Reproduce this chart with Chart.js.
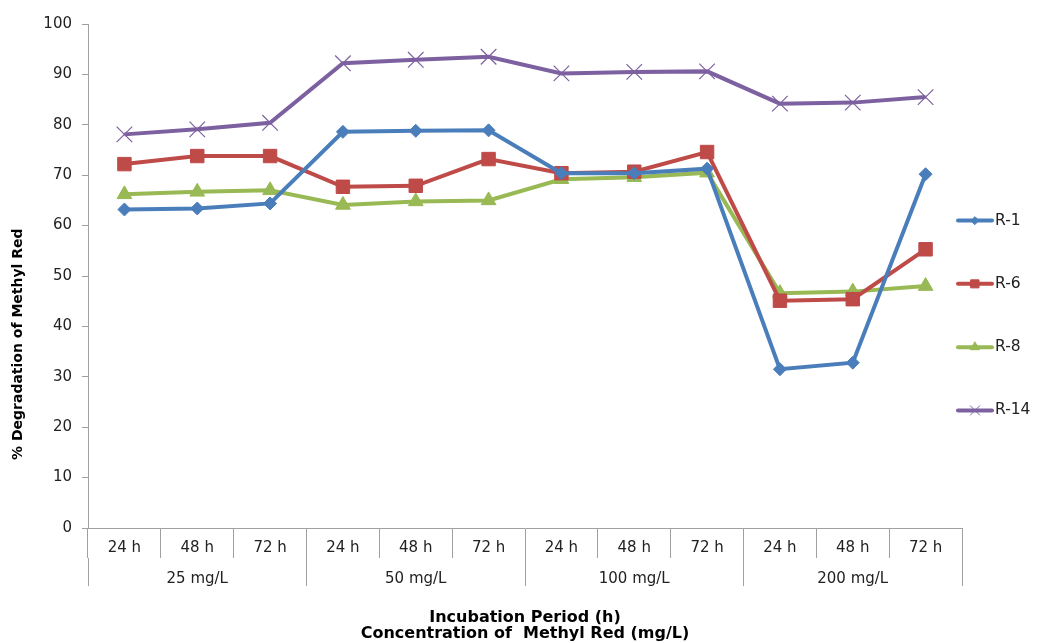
<!DOCTYPE html>
<html>
<head>
<meta charset="utf-8">
<script src="https://cdn.jsdelivr.net/npm/chart.js@4.4.1/dist/chart.umd.min.js"></script>
<style>
  html, body { margin: 0; padding: 0; background: #fff; }
  #wrap { width: 1037px; height: 643px; position: relative; }
</style>
</head>
<body>
<div id="wrap"><canvas id="chart"></canvas></div>
<script>
// Incubation period, repeated for each dye concentration
const hours = ['24 h', '48 h', '72 h', '24 h', '48 h', '72 h', '24 h', '48 h', '72 h', '24 h', '48 h', '72 h'];
const concentrations = ['25 mg/L', '50 mg/L', '100 mg/L', '200 mg/L'];
const yTicks = [0, 10, 20, 30, 40, 50, 60, 70, 80, 90, 100];

// % degradation of methyl red for each isolate
const r1 = [63.2, 63.4, 64.4, 78.6, 78.8, 78.9, 70.4, 70.4, 71.3, 31.5, 32.8, 70.2];
const r6 = [72.2, 73.8, 73.8, 67.7, 67.9, 73.2, 70.4, 70.7, 74.6, 45.1, 45.4, 55.3];
const r8 = [66.2, 66.7, 67.0, 64.1, 64.8, 65.0, 69.2, 69.6, 70.5, 46.6, 46.9, 48.0];
const r14 = [78.1, 79.1, 80.4, 92.2, 92.9, 93.5, 90.2, 90.5, 90.6, 84.2, 84.4, 85.5];

const yTitle = '% Degradation of Methyl Red';
const xTitle = ['Incubation Period (h)', 'Concentration of  Methyl Red (mg/L)'];

const FONT = 'DejaVu Sans';
const axisGrey = '#a0a0a0';

function series(label, data, color, style, radius, bw) {
  return {
    label: label,
    data: data,
    borderColor: color,
    backgroundColor: color,
    borderWidth: 4,
    tension: 0,
    pointStyle: style,
    pointRadius: radius,
    pointHoverRadius: radius,
    pointBorderWidth: bw,
    pointBorderColor: color,
    pointBackgroundColor: color
  };
}

// legend on the right + rotated y title
const sideTexts = {
  id: 'sideTexts',
  afterDraw(chart) {
    const ctx = chart.ctx;
    const area = chart.chartArea;
    ctx.save();

    // y axis title
    ctx.font = 'bold 14px "' + FONT + '"';
    ctx.fillStyle = '#000';
    ctx.translate(area.left - 70, area.bottom - 68);
    ctx.rotate(-Math.PI / 2);
    ctx.textAlign = 'left';
    ctx.textBaseline = 'middle';
    ctx.fillText(yTitle, 0, 0);
    ctx.restore();

    // legend
    ctx.save();
    const n = chart.data.datasets.length;
    const gap = 63.3;
    const mid = chart.height / 2 - 6;
    chart.data.datasets.forEach(function (ds, i) {
      const y = mid + (i - (n - 1) / 2) * gap;
      const x0 = area.right - 4;
      const x1 = x0 + 34;
      ctx.strokeStyle = ds.borderColor;
      ctx.lineWidth = 4;
      ctx.lineCap = 'round';
      ctx.beginPath();
      ctx.moveTo(x0, y);
      ctx.lineTo(x1, y);
      ctx.stroke();
      ctx.fillStyle = ds.borderColor;
      ctx.lineWidth = 1;
      Chart.helpers.drawPoint(ctx, {
        pointStyle: ds.pointStyle,
        radius: ds.pointRadius * 0.6,
        rotation: 0,
        borderWidth: 1
      }, (x0 + x1) / 2, y);
      ctx.fillStyle = '#222';
      ctx.font = '15.5px "' + FONT + '"';
      ctx.textAlign = 'left';
      ctx.textBaseline = 'middle';
      ctx.fillText(ds.label, x1 + 3, y);
    });
    ctx.restore();
  }
};

new Chart(document.getElementById('chart'), {
  type: 'line',
  data: {
    labels: hours,
    datasets: [
      series('R-1', r1, '#4a7ebb', 'rectRot', 6.5, 1),
      series('R-6', r6, '#be4b48', 'rect', 9.5, 1),
      series('R-8', r8, '#98b954', 'triangle', 8.5, 1),
      series('R-14', r14, '#7d60a0', 'crossRot', 11, 1.2)
    ]
  },
  options: {
    responsive: true,
    maintainAspectRatio: false,
    animation: false,
    layout: { padding: { top: 24, right: 75, bottom: 0, left: 0 } },
    plugins: {
      legend: { display: false },
      tooltip: { enabled: false }
    },
    scales: {
      x: {
        type: 'category',
        labels: hours,
        offset: true,
        grid: { offset: true, drawOnChartArea: false, tickLength: 30, color: axisGrey },
        border: { color: axisGrey },
        ticks: {
          padding: -19,
          autoSkip: false,
          maxRotation: 0,
          color: '#222',
          font: { family: FONT, size: 15 }
        },
        afterFit: function (s) { s.height = 30; }
      },
      x2: {
        type: 'category',
        position: 'bottom',
        labels: concentrations,
        offset: true,
        grid: { offset: true, drawOnChartArea: false, tickLength: 28, color: axisGrey },
        border: { display: false },
        ticks: {
          padding: -16,
          autoSkip: false,
          maxRotation: 0,
          color: '#222',
          font: { family: FONT, size: 15 }
        },
        title: {
          display: true,
          text: xTitle,
          color: '#000',
          font: { family: FONT, size: 16, weight: 'bold', lineHeight: 1.0 },
          padding: { top: 0, bottom: 1 }
        },
        afterFit: function (s) { s.height = 85; }
      },
      y: {
        min: 0,
        max: 100,
        afterBuildTicks: function (s) { s.ticks = yTicks.map(function (v) { return { value: v }; }); },
        grid: { drawOnChartArea: false, tickLength: 6, color: axisGrey },
        border: { color: axisGrey },
        ticks: {
          padding: 10,
          color: '#222',
          font: { family: FONT, size: 15 }
        },
        afterFit: function (s) { s.width = 88; }
      }
    }
  },
  plugins: [sideTexts]
});
</script>
</body>
</html>
